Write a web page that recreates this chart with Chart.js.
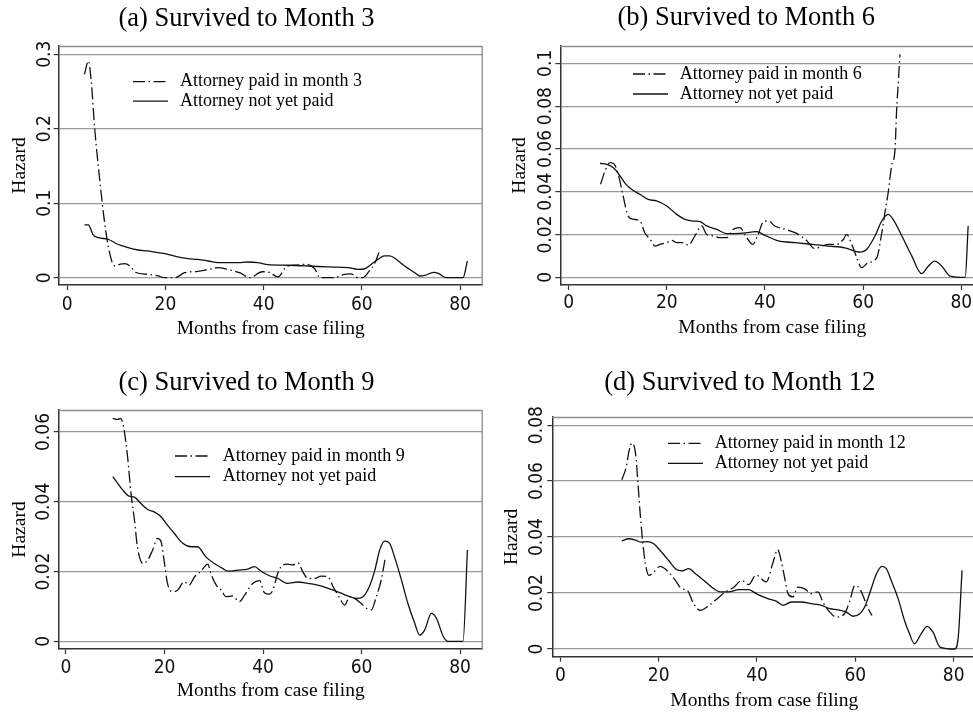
<!DOCTYPE html>
<html>
<head>
<meta charset="utf-8">
<script src="https://cdn.jsdelivr.net/npm/chart.js@4.4.1/dist/chart.umd.min.js"></script>
<style>
  html, body { margin: 0; padding: 0; background: #fff; width: 973px; height: 715px; overflow: hidden; }
  canvas { position: absolute; }
</style>
</head>
<body>
<canvas id="panelA" width="493" height="345" style="left:0px;top:0px"></canvas>
<canvas id="panelB" width="527" height="345" style="left:483px;top:0px"></canvas>
<canvas id="panelC" width="493" height="370" style="left:0px;top:345px"></canvas>
<canvas id="panelD" width="513" height="370" style="left:483px;top:345px"></canvas>
<script>
// ---- Text ----
const panelTitles = ['(a) Survived to Month 3', '(b) Survived to Month 6', '(c) Survived to Month 9', '(d) Survived to Month 12'];
const paidLabels = ['Attorney paid in month 3', 'Attorney paid in month 6', 'Attorney paid in month 9', 'Attorney paid in month 12'];
const notPaidLabel = 'Attorney not yet paid';
const xAxisTitle = 'Months from case filing';
const yAxisTitle = 'Hazard';

// ---- Tick values and labels ----
const xTickValues = [0, 20, 40, 60, 80];
const xTickLabels = ['0', '20', '40', '60', '80'];
const yTicksA = [0, 0.1, 0.2, 0.3];
const yTickLabelsA = ['0', '0.1', '0.2', '0.3'];
const yTicksB = [0, 0.02, 0.04, 0.06, 0.08, 0.1];
const yTickLabelsB = ['0', '0.02', '0.04', '0.06', '0.08', '0.1'];
const yTicksC = [0, 0.02, 0.04, 0.06];
const yTickLabelsC = ['0', '0.02', '0.04', '0.06'];
const yTicksD = [0, 0.02, 0.04, 0.06, 0.08];
const yTickLabelsD = ['0', '0.02', '0.04', '0.06', '0.08'];

// ---- (a) Survived to month 3 ----
const monthsPaid3 = [3.5, 4.3, 4.9, 5.6, 6.6, 7.6, 8.6, 9.6, 10.7, 11.7, 12.7, 14.0, 16.4, 18.5, 19.8, 21.9, 23.9, 26.6, 28.7, 30.7, 32.7, 35.1, 37.2, 39.7, 41.2, 42.9, 44.7, 46.6, 48.8, 50.4, 51.5, 54.5, 56.2, 57.8, 59.2, 60.2, 61.6, 62.6, 63.5];
const hazardPaid3 = [0.273, 0.291, 0.262, 0.199, 0.132, 0.074, 0.034, 0.016, 0.018, 0.019, 0.016, 0.007, 0.0045, 0.0023, 0, 0, 0.0067, 0.0086, 0.011, 0.0134, 0.011, 0.0067, 0, 0.008, 0.007, 0.001, 0.015, 0.017, 0.018, 0.012, 0, 0, 0.004, 0.005, 0, 0, 0.0098, 0.019, 0.034];
const monthsNotPaidA = [3.5, 4.3, 5.2, 6.3, 8.3, 10.3, 12.4, 14.4, 16.4, 18.5, 20.5, 22.5, 24.6, 26.6, 28.7, 30.7, 32.7, 34.8, 36.8, 38.8, 40.9, 45.0, 49.0, 53.1, 57.2, 59.2, 60.6, 61.9, 63.3, 64.6, 65.7, 67.0, 68.7, 70.8, 71.8, 72.8, 74.6, 75.6, 77.2, 78.9, 80.6, 81.5];
const hazardNotPaidA = [0.0709, 0.0709, 0.0583, 0.0538, 0.0516, 0.0449, 0.0403, 0.0372, 0.0359, 0.0336, 0.0314, 0.0278, 0.0255, 0.0246, 0.0224, 0.0202, 0.0202, 0.0202, 0.0211, 0.0202, 0.0175, 0.0167, 0.0157, 0.0144, 0.0134, 0.0113, 0.012, 0.0179, 0.0247, 0.0292, 0.0292, 0.0247, 0.0157, 0.0067, 0.0023, 0.003, 0.0072, 0.0058, 0, 0, 0, 0.0224];

// ---- (b) Survived to month 6 ----
const monthsPaid6 = [6.5, 7.4, 8.4, 9.3, 10.1, 11.1, 12.1, 13.2, 14.5, 15.5, 16.6, 17.6, 18.6, 20.0, 21.0, 22.0, 23.4, 24.4, 25.7, 27.1, 28.1, 29.5, 30.8, 32.2, 33.5, 34.9, 36.3, 37.5, 38.6, 39.8, 40.7, 42.0, 44.1, 46.1, 48.2, 50.2, 51.6, 52.9, 54.6, 56.0, 56.6, 57.7, 58.7, 59.7, 61.0, 62.8, 63.8, 64.5, 65.1, 65.8, 66.5, 66.8, 67.2, 67.5];
const hazardPaid6 = [0.0435, 0.0497, 0.0536, 0.0528, 0.0481, 0.038, 0.0286, 0.0271, 0.0264, 0.0208, 0.0178, 0.0146, 0.0154, 0.0162, 0.0173, 0.0162, 0.0162, 0.015, 0.0193, 0.024, 0.0201, 0.0193, 0.0185, 0.0185, 0.0224, 0.0232, 0.0185, 0.0154, 0.0201, 0.0263, 0.0263, 0.024, 0.0224, 0.0209, 0.0178, 0.0134, 0.0146, 0.0154, 0.0154, 0.0178, 0.0201, 0.0154, 0.0092, 0.0045, 0.0068, 0.0092, 0.0208, 0.031, 0.0395, 0.052, 0.0598, 0.0769, 0.0925, 0.1042];
const monthsNotPaidB = [6.4, 7.7, 9.1, 10.5, 11.5, 12.8, 14.5, 16.2, 17.9, 20.0, 22.0, 23.7, 25.4, 26.8, 28.1, 30.2, 32.2, 34.9, 38.3, 40.0, 42.7, 46.1, 49.5, 52.9, 56.3, 59.4, 60.7, 62.4, 63.8, 65.1, 66.1, 67.9, 69.9, 71.9, 73.3, 74.6, 76.0, 77.7, 80.8, 81.4];
const hazardNotPaidB = [0.0533, 0.0528, 0.0512, 0.0473, 0.0439, 0.0411, 0.0388, 0.0364, 0.0357, 0.0333, 0.0294, 0.0271, 0.0263, 0.026, 0.024, 0.0224, 0.0204, 0.0205, 0.0213, 0.0196, 0.017, 0.0162, 0.0154, 0.0146, 0.0138, 0.0118, 0.013, 0.0193, 0.0263, 0.0294, 0.0271, 0.0193, 0.01, 0.0017, 0.0053, 0.0076, 0.0053, 0.0006, 0, 0.024];

// ---- (c) Survived to month 9 ----
const monthsPaid9 = [9.5, 10.5, 11.1, 11.8, 12.5, 13.2, 13.9, 14.5, 15.6, 16.6, 17.6, 18.6, 19.3, 20.0, 20.6, 21.7, 22.7, 24.0, 25.0, 26.1, 27.4, 28.8, 29.4, 30.5, 31.5, 32.5, 33.8, 35.2, 36.2, 37.9, 39.3, 40.3, 41.3, 42.0, 43.0, 44.0, 45.0, 46.0, 47.1, 48.1, 49.1, 50.5, 51.8, 53.2, 54.2, 55.2, 56.6, 57.6, 58.6, 59.9, 61.0, 62.0, 63.0, 64.0, 64.8];
const hazardPaid9 = [0.0639, 0.0636, 0.0639, 0.0605, 0.0529, 0.0424, 0.0348, 0.0271, 0.0223, 0.0233, 0.0262, 0.0295, 0.0286, 0.0223, 0.0166, 0.0142, 0.0147, 0.0171, 0.0161, 0.0185, 0.0201, 0.0221, 0.0195, 0.0161, 0.0147, 0.0128, 0.013, 0.0114, 0.0131, 0.0166, 0.0174, 0.0139, 0.0135, 0.0147, 0.0195, 0.0219, 0.0221, 0.0219, 0.0225, 0.0199, 0.018, 0.018, 0.0187, 0.0185, 0.0157, 0.0133, 0.0104, 0.0128, 0.0123, 0.0109, 0.0095, 0.009, 0.0128, 0.0176, 0.0238];
const monthsNotPaidC = [9.5, 10.5, 11.5, 12.8, 13.9, 15.2, 16.6, 17.9, 19.3, 20.6, 22.0, 23.7, 25.4, 26.7, 28.4, 30.1, 31.8, 32.8, 34.9, 36.9, 38.3, 39.6, 41.3, 43.0, 45.0, 47.1, 49.1, 51.1, 53.2, 55.2, 57.2, 58.9, 60.3, 61.6, 62.7, 63.7, 64.7, 65.7, 66.7, 68.1, 69.4, 70.8, 71.8, 72.8, 74.2, 75.2, 76.6, 77.6, 80.6, 81.5];
const hazardNotPaidC = [0.0472, 0.0453, 0.0434, 0.0416, 0.0413, 0.0395, 0.0378, 0.0371, 0.0357, 0.0333, 0.0309, 0.0281, 0.0271, 0.0271, 0.0242, 0.0223, 0.0209, 0.0201, 0.0204, 0.0207, 0.0214, 0.0201, 0.0188, 0.018, 0.0166, 0.017, 0.0166, 0.0161, 0.0152, 0.0142, 0.013, 0.0123, 0.0128, 0.0157, 0.0204, 0.0262, 0.0287, 0.0281, 0.0242, 0.0176, 0.0109, 0.0052, 0.0018, 0.0032, 0.008, 0.0066, 0.0014, 0, 0, 0.0262];

// ---- (d) Survived to month 12 ----
const monthsPaid12 = [12.5, 13.4, 14.0, 14.6, 15.3, 15.8, 16.3, 16.8, 17.3, 18.0, 19.0, 20.3, 21.7, 23.4, 24.7, 25.8, 27.1, 28.5, 30.2, 31.9, 33.6, 35.3, 36.9, 38.3, 39.8, 41.9, 43.3, 44.2, 44.9, 45.6, 46.3, 47.3, 48.3, 49.7, 51.0, 52.4, 53.4, 54.8, 56.1, 57.8, 58.9, 59.9, 60.9, 61.8, 62.6, 63.4];
const hazardPaid12 = [0.0605, 0.065, 0.071, 0.0736, 0.0698, 0.059, 0.0471, 0.0376, 0.0305, 0.0263, 0.0275, 0.0295, 0.028, 0.0245, 0.0215, 0.021, 0.0162, 0.0138, 0.0155, 0.018, 0.0204, 0.0221, 0.0245, 0.023, 0.0264, 0.024, 0.0312, 0.0355, 0.0317, 0.0257, 0.0198, 0.0186, 0.0221, 0.0215, 0.0198, 0.0204, 0.0168, 0.0132, 0.0114, 0.0126, 0.0174, 0.0227, 0.0215, 0.018, 0.0144, 0.012];
const monthsNotPaidD = [12.5, 13.9, 15.3, 16.3, 17.6, 19.0, 20.3, 22.0, 23.4, 24.7, 26.1, 27.5, 29.2, 30.8, 32.5, 34.2, 36.3, 38.3, 40.1, 42.2, 43.9, 45.3, 47.0, 49.0, 51.0, 53.1, 54.8, 56.5, 58.2, 59.5, 60.9, 61.9, 62.9, 64.3, 65.4, 66.3, 67.3, 68.7, 70.0, 71.0, 72.0, 73.4, 74.6, 75.8, 77.2, 80.2, 80.9, 81.7];
const hazardNotPaidD = [0.0386, 0.0394, 0.0389, 0.0382, 0.0384, 0.0376, 0.0352, 0.0317, 0.0287, 0.0279, 0.0287, 0.0269, 0.0245, 0.0221, 0.0204, 0.0204, 0.0212, 0.0212, 0.0195, 0.018, 0.0171, 0.0156, 0.0168, 0.0168, 0.0162, 0.0156, 0.0144, 0.014, 0.0132, 0.0117, 0.0126, 0.015, 0.0198, 0.0269, 0.0295, 0.0287, 0.0245, 0.018, 0.0102, 0.0055, 0.0019, 0.0055, 0.0081, 0.006, 0.0007, 0, 0.0037, 0.0281];

// ---- Styling ----
const serif = "'Liberation Serif', 'Times New Roman', serif";
const sansNarrow = "'Liberation Sans Narrow', 'Arial Narrow', 'DejaVu Sans Condensed', sans-serif";
const ink = '#111111';
const axisInk = '#333333';
const gridInk = '#9a9a9a';
const dashDot = [12, 3.5, 1.5, 3.5];

// Grey frame along the top and right edges of the plot region
const plotFrame = {
  id: 'plotFrame',
  beforeDatasetsDraw(chart, args, opts) {
    const a = chart.chartArea;
    const ctx = chart.ctx;
    ctx.save();
    ctx.strokeStyle = opts.color;
    ctx.lineWidth = opts.width;
    ctx.beginPath();
    ctx.moveTo(a.left, a.top + 0.5);
    ctx.lineTo(a.right - 0.5, a.top + 0.5);
    ctx.lineTo(a.right - 0.5, a.bottom);
    ctx.stroke();
    ctx.restore();
  }
};

// Key placed inside the plot region, one row per series
const insetKey = {
  id: 'insetKey',
  afterDatasetsDraw(chart, args, opts) {
    const a = chart.chartArea;
    const ctx = chart.ctx;
    chart.data.datasets.forEach((ds, i) => {
      const y = a.top + opts.top + i * opts.rowGap;
      const x0 = a.left + opts.left;
      ctx.save();
      ctx.strokeStyle = ds.borderColor;
      ctx.lineWidth = ds.borderWidth;
      ctx.setLineDash(ds.borderDash || []);
      ctx.beginPath();
      ctx.moveTo(x0, y);
      ctx.lineTo(x0 + opts.sampleWidth, y);
      ctx.stroke();
      ctx.setLineDash([]);
      ctx.fillStyle = '#000';
      ctx.font = opts.font;
      ctx.textAlign = 'left';
      ctx.textBaseline = 'middle';
      ctx.fillText(ds.label, a.left + opts.textLeft, y);
      ctx.restore();
    });
  }
};

function toPoints(xs, ys) {
  return xs.map((x, i) => ({ x: x, y: ys[i] }));
}

function buildPanel(canvasId, p) {
  return new Chart(document.getElementById(canvasId), {
    type: 'line',
    data: {
      datasets: [
        {
          label: p.paidLabel,
          data: toPoints(p.paidMonths, p.paidHazard),
          borderColor: ink, borderWidth: 1.3, borderDash: dashDot,
          pointRadius: 0, fill: false, cubicInterpolationMode: 'monotone'
        },
        {
          label: notPaidLabel,
          data: toPoints(p.notPaidMonths, p.notPaidHazard),
          borderColor: ink, borderWidth: 1.3, borderDash: [],
          pointRadius: 0, fill: false, cubicInterpolationMode: 'monotone'
        }
      ]
    },
    options: {
      responsive: false,
      animation: false,
      events: [],
      layout: { padding: { left: p.pad.left, right: p.pad.right, top: 0, bottom: p.pad.bottom } },
      plugins: {
        legend: { display: false },
        tooltip: { enabled: false },
        title: {
          display: true, text: p.title, color: '#000',
          font: { family: serif, size: 26.5, weight: 'normal', lineHeight: 1.2 },
          padding: { top: p.titlePad[0], bottom: p.titlePad[1] }
        },
        plotFrame: { color: '#8c8c8c', width: 1.3 },
        insetKey: {
          left: p.key.left, top: p.key.top, rowGap: p.key.gap,
          sampleWidth: 35, textLeft: p.key.text,
          font: "18px " + serif
        }
      },
      scales: {
        x: {
          type: 'linear', min: p.xMin, max: p.xMax,
          afterBuildTicks: s => { s.ticks = xTickValues.map(v => ({ value: v })); },
          afterFit: s => { s.height = p.xAxisHeight; },
          grid: { drawOnChartArea: false, drawTicks: true, tickLength: 5, tickColor: axisInk, tickWidth: 1.2 },
          border: { display: true, color: axisInk, width: 1.5 },
          ticks: {
            autoSkip: false, minRotation: 0, maxRotation: 0, padding: p.xTickPad,
            color: '#111', font: { family: sansNarrow, size: 19, lineHeight: 1 },
            callback: v => xTickLabels[xTickValues.indexOf(v)]
          },
          title: {
            display: true, text: xAxisTitle, color: '#000',
            font: { family: serif, size: 19.5, weight: 'normal', lineHeight: 1 },
            padding: { top: 0, bottom: 0 }
          }
        },
        y: {
          type: 'linear', min: p.yMin, max: p.yMax,
          afterBuildTicks: s => { s.ticks = p.yTicks.map(v => ({ value: v })); },
          afterFit: s => { s.width = p.yAxisWidth; },
          grid: { color: gridInk, lineWidth: 1.2, drawTicks: true, tickLength: 5, tickColor: axisInk, tickWidth: 1.2 },
          border: { display: true, color: axisInk, width: 1.5 },
          ticks: {
            autoSkip: false, minRotation: 90, maxRotation: 90, crossAlign: 'center', padding: p.yTickPad,
            color: '#111', font: { family: sansNarrow, size: 19, lineHeight: 1 },
            callback: v => p.yTickLabels[p.yTicks.indexOf(v)]
          },
          title: {
            display: true, text: yAxisTitle, color: '#000',
            font: { family: serif, size: 19.5, weight: 'normal', lineHeight: 1 },
            padding: { top: p.yTitlePad, bottom: 0 }
          }
        }
      }
    },
    plugins: [plotFrame, insetKey]
  });
}

buildPanel('panelA', {
  title: panelTitles[0], paidLabel: paidLabels[0],
  paidMonths: monthsPaid3, paidHazard: hazardPaid3,
  notPaidMonths: monthsNotPaidA, notPaidHazard: hazardNotPaidA,
  yTicks: yTicksA, yTickLabels: yTickLabelsA,
  xMin: -1.75, xMax: 84.62, yMin: -0.0098, yMax: 0.311,
  pad: { left: 10.3, right: 10.3, bottom: 6.85 }, titlePad: [3.5, 10.7],
  yAxisWidth: 48.4, yTitlePad: 0, yTickPad: -5.2,
  xAxisHeight: 53.15, xTickPad: 5.5,
  key: { left: 74.3, top: 35.7, gap: 19.5, text: 121.3 }
});

buildPanel('panelB', {
  title: panelTitles[1], paidLabel: paidLabels[1],
  paidMonths: monthsPaid6, paidHazard: hazardPaid6,
  notPaidMonths: monthsNotPaidB, notPaidHazard: hazardNotPaidB,
  yTicks: yTicksB, yTickLabels: yTickLabelsB,
  xMin: -1.71, xMax: 84.69, yMin: -0.0036, yMax: 0.1081,
  pad: { left: 25.3, right: 25.7, bottom: 7.55 }, titlePad: [2.5, 11.7],
  yAxisWidth: 52, yTitlePad: 2, yTickPad: -9.3,
  xAxisHeight: 52.45, xTickPad: 3.8,
  key: { left: 72.7, top: 28, gap: 20, text: 119.4 }
});

buildPanel('panelC', {
  title: panelTitles[2], paidLabel: paidLabels[2],
  paidMonths: monthsPaid9, paidHazard: hazardPaid9,
  notPaidMonths: monthsNotPaidC, notPaidHazard: hazardNotPaidC,
  yTicks: yTicksC, yTickLabels: yTickLabelsC,
  xMin: -1.48, xMax: 84.6, yMin: -0.0022, yMax: 0.0663,
  pad: { left: 10.3, right: 10.3, bottom: 14.15 }, titlePad: [21.9, 11.3],
  yAxisWidth: 48.4, yTitlePad: 0, yTickPad: -9.8,
  xAxisHeight: 51.85, xTickPad: 4.5,
  key: { left: 116.3, top: 46, gap: 20.7, text: 164 }
});

buildPanel('panelD', {
  title: panelTitles[3], paidLabel: paidLabels[3],
  paidMonths: monthsPaid12, paidHazard: hazardPaid12,
  notPaidMonths: monthsNotPaidD, notPaidHazard: hazardNotPaidD,
  yTicks: yTicksD, yTickLabels: yTickLabelsD,
  xMin: -1.63, xMax: 84.6, yMin: -0.00275, yMax: 0.0829,
  pad: { left: 20.1, right: 19.7, bottom: 4.15 }, titlePad: [21.9, 18.3],
  yAxisWidth: 49.2, yTitlePad: -0.65, yTickPad: -9.2,
  xAxisHeight: 54.15, xTickPad: 4.6,
  key: { left: 115.7, top: 26.3, gap: 20, text: 162.4 }
});
</script>
</body>
</html>
